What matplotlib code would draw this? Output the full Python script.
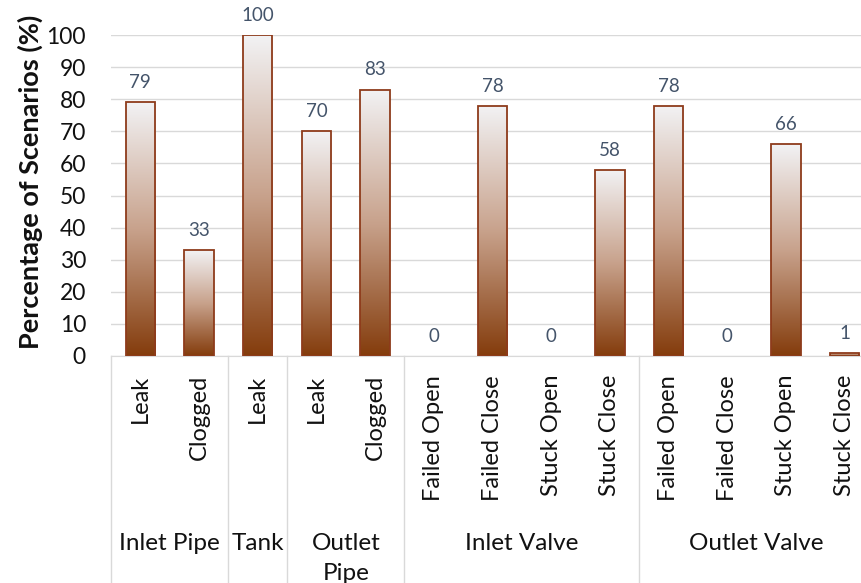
import matplotlib
matplotlib.use('Agg')
import matplotlib.pyplot as plt
import matplotlib.transforms as mtransforms
import numpy as np
from matplotlib.colors import LinearSegmentedColormap

plt.rcParams['font.family'] = ['Lato', 'DejaVu Sans']

components = ['Inlet Pipe', 'Tank', 'Outlet\nPipe', 'Inlet Valve', 'Outlet Valve']
faults = [['Leak', 'Clogged'],
          ['Leak'],
          ['Leak', 'Clogged'],
          ['Failed Open', 'Failed Close', 'Stuck Open', 'Stuck Close'],
          ['Failed Open', 'Failed Close', 'Stuck Open', 'Stuck Close']]
percent = [79, 33, 100, 70, 83, 0, 78, 0, 58, 78, 0, 66, 1]

W, H = 862, 583
fig = plt.figure(figsize=(W / 100, H / 100), dpi=100)
ax = fig.add_axes([111 / W, 227 / H, 763 / W, 321 / H])

brown = '#843C0C'
cmap = LinearSegmentedColormap.from_list('fade', [brown, '#C8A28C', '#F2F2F4'])
grad = np.linspace(0, 1, 256).reshape(-1, 1)

labels = [f for group in faults for f in group]
x = np.arange(len(labels))
width = 0.5

bars = ax.bar(x, percent, width, facecolor='none', edgecolor='#8E3B1B', linewidth=1.3, zorder=3)
for b, v in zip(bars, percent):
    if v > 0:
        im = ax.imshow(grad, extent=[b.get_x(), b.get_x() + width, 0, v], origin='lower',
                       aspect='auto', cmap=cmap, zorder=2)
        im.set_clip_path(b)
    else:
        b.set_visible(False)
    ax.annotate(str(v), (b.get_x() + width / 2, v), xytext=(0, 8), textcoords='offset points',
                ha='center', va='bottom', fontsize=13.5, color='#44546A')

ax.set_xlim(-0.5, len(labels) - 0.5)
ax.set_ylim(0, 100)
ax.set_yticks(range(0, 101, 10))
ax.tick_params(axis='y', length=0, pad=18, labelsize=16.5, labelcolor='#111111')
ax.set_xticks([])
ax.grid(axis='y', color='#D9D9D9', linewidth=1)
ax.set_axisbelow(True)
for s in ['left', 'right', 'top']:
    ax.spines[s].set_visible(False)
ax.spines['bottom'].set_color('#D9D9D9')

# two-level category axis
trans = mtransforms.blended_transform_factory(ax.transData, ax.transAxes)
px = 1 / 321
for i, lab in enumerate(labels):
    ax.text(i, -19 * px, lab, rotation=90, ha='center', va='top', fontsize=17,
            color='#111111', transform=trans)

edges = np.concatenate([[0], np.cumsum([len(g) for g in faults])]) - 0.5
for e in edges:
    ax.plot([e, e], [0, -0.75], transform=trans, clip_on=False, color='#D9D9D9', linewidth=1)
for name, a, b in zip(components, edges[:-1], edges[1:]):
    ax.text((a + b) / 2, -177 * px, name, ha='center', va='top', fontsize=17.5,
            color='#111111', linespacing=1.5, transform=trans)

fig.text(30 / W, 1 - 182 / H, 'Percentage of Scenarios (%)', rotation=90, ha='center', va='center',
         fontsize=19.5, fontweight='bold', color='#111111')

fig.savefig('out.png', dpi=100, facecolor='white')
